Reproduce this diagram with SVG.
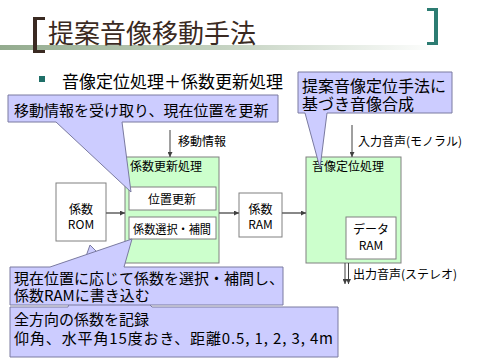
<svg xmlns="http://www.w3.org/2000/svg" width="480" height="360" viewBox="0 0 480 360">
<style>
text{font-family:"Noto Sans CJK JP","Noto Sans",sans-serif;fill:#000}
.t12{font-size:12px}
.t15{font-size:15px}
.t16{font-size:16px}
.box{fill:#fff;stroke:#808080;stroke-width:1}
.grn{fill:#ccffcc;stroke:#808080;stroke-width:1}
.call{fill:#ccccff;stroke:#7a7aa0;stroke-width:1}
.ln{stroke:#404040;stroke-width:1;fill:none}
.hl{stroke:#606060;stroke-width:1.5;fill:none}
</style>
<defs>
<linearGradient id="bar" x1="0" x2="1" y1="0" y2="0">
<stop offset="0" stop-color="#93ab8e"/>
<stop offset="0.55" stop-color="#c9d6c6"/>
<stop offset="1" stop-color="#ffffff"/>
</linearGradient>
<marker id="ah" viewBox="0 0 8 8" refX="8" refY="4" markerWidth="5" markerHeight="5" orient="auto" markerUnits="userSpaceOnUse">
<path d="M0,0 L8,4 L0,8 z" fill="#404040"/>
</marker>
</defs>
<rect width="480" height="360" fill="#fff"/>
<g id="title">
<rect x="0" y="45" width="440" height="5" fill="url(#bar)"/>
<path d="M45,17 H33 V53 H45 V50 H37 V20 H45 z" fill="#3a2a22"/>
<path d="M427,8 H438 V45 H427 V42 H434 V11 H427 z" fill="#2c7c72"/>
<text x="48" y="43" style="font-size:26px;fill:#3a2a22">提案音像移動手法</text>
</g>
<g id="bullet">
<rect x="39" y="76" width="6" height="6" fill="#1f6f68"/>
<text x="62" y="88" style="font-size:17px">音像定位処理＋係数更新処理</text>
</g>
<g id="rom">
<rect class="box" x="56" y="183" width="50" height="58"/>
<text class="t12" x="81" y="214" text-anchor="middle">係数</text>
<text class="t12" x="81" y="229" text-anchor="middle">ROM</text>
</g>
<g id="coefupdate">
<rect class="grn" x="125" y="157" width="94" height="106"/>
<text class="t12" x="130" y="171">係数更新処理</text>
<g id="posupdate">
<rect class="box" x="129" y="187" width="87" height="23"/>
<text class="t12" x="172" y="204" text-anchor="middle">位置更新</text>
</g>
<g id="coefselect">
<rect class="box" x="129" y="217" width="87" height="22"/>
<text class="t12" x="133" y="234" textLength="78" lengthAdjust="spacingAndGlyphs">係数選択・補間</text>
</g>
</g>
<g id="ram">
<rect class="box" x="239" y="193" width="43" height="44"/>
<text class="t12" x="260.5" y="214" text-anchor="middle">係数</text>
<text class="t12" x="260.5" y="229" text-anchor="middle">RAM</text>
</g>
<g id="localize">
<rect class="grn" x="306" y="157" width="95" height="106"/>
<text class="t12" x="312" y="171">音像定位処理</text>
<g id="dataram">
<rect class="box" x="346" y="217" width="50" height="42"/>
<text class="t12" x="371" y="234" text-anchor="middle">データ</text>
<text class="t12" x="371" y="250" text-anchor="middle">RAM</text>
</g>
</g>
<g id="connectors">
<line class="hl" x1="106" y1="213" x2="125" y2="213" marker-end="url(#ah)"/>
<line class="hl" x1="219" y1="213" x2="239" y2="213" marker-end="url(#ah)"/>
<line class="hl" x1="282" y1="213" x2="306" y2="213" marker-end="url(#ah)"/>
<line class="ln" x1="170" y1="130" x2="170" y2="157" marker-end="url(#ah)"/>
<text class="t12" x="178" y="146">移動情報</text>
<line class="ln" x1="352" y1="125" x2="352" y2="157" marker-end="url(#ah)"/>
<text class="t12" x="358" y="146">入力音声(モノラル)</text>
<line class="ln" x1="345" y1="263" x2="345" y2="284" marker-end="url(#ah)"/>
<line class="ln" x1="348.5" y1="263" x2="348.5" y2="284" marker-end="url(#ah)"/>
<text class="t12" x="353" y="279">出力音声(ステレオ)</text>
</g>
<g id="callout1">
<path class="call" d="M8,95 H278 V122 H122 L131,192 L56,122 H8 z"/>
<text class="t15" x="14" y="116">移動情報を受け取り、現在位置を更新</text>
</g>
<g id="callout2">
<path class="call" d="M298,72 H452 V113 H327 L320,168 L305,113 H298 z"/>
<text class="t16" x="302" y="92">提案音像定位手法に</text>
<text class="t16" x="302" y="110">基づき音像合成</text>
</g>
<g id="callout4">
<path class="call" d="M10,307 H68 L90,245 L152,307 H338 V357 H10 z"/>
<text class="t15" x="14" y="325">全方向の係数を記録</text>
<text class="t15" x="14" y="344" textLength="319" lengthAdjust="spacing">仰角、水平角15度おき、距離0.5, 1, 2, 3, 4m</text>
</g>
<g id="callout3">
<path class="call" d="M10,267 H50 L132,239 L124,267 H283 V305 H10 z"/>
<text class="t15" x="14" y="284">現在位置に応じて係数を選択・補間し、</text>
<text class="t15" x="14" y="301">係数RAMに書き込む</text>
</g>
</svg>
